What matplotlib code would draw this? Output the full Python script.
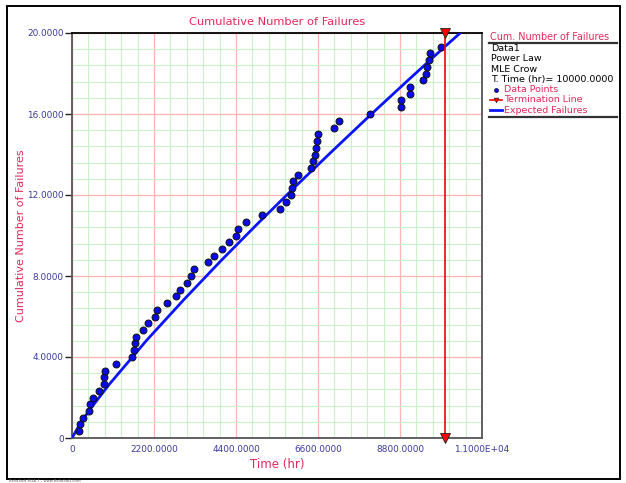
import matplotlib
matplotlib.use("Agg")
import matplotlib.pyplot as plt
from matplotlib.lines import Line2D
from matplotlib.patches import Rectangle
from matplotlib.ticker import MultipleLocator, FixedLocator

# data
fail_time = [188, 215, 303, 465, 483, 572, 733, 859, 859, 877,
             1180, 1601, 1663, 1681, 1717, 1914, 2048, 2227, 2272, 2540,
             2780, 2898, 3094, 3193, 3282, 3640, 3818, 4033, 4221, 4400,
             4462, 4677, 5100, 5581, 5733, 5867, 5894, 5938, 6072, 6404,
             6458, 6529, 6556, 6583, 6592, 7030, 7172, 7996, 8819, 8819,
             9069, 9069, 9427, 9498, 9533, 9587, 9605, 9891]
cum_fail = [0.33, 0.67, 1.00, 1.33, 1.67, 2.00, 2.33, 2.67, 3.00, 3.33,
            3.67, 4.00, 4.33, 4.67, 5.00, 5.33, 5.67, 6.00, 6.33, 6.67,
            7.00, 7.33, 7.67, 8.00, 8.33, 8.67, 9.00, 9.33, 9.67, 10.00,
            10.33, 10.67, 11.00, 11.33, 11.67, 12.00, 12.33, 12.67, 13.00, 13.33,
            13.67, 14.00, 14.33, 14.67, 15.00, 15.33, 15.67, 16.00, 16.33, 16.67,
            17.00, 17.33, 17.67, 18.00, 18.33, 18.67, 19.00, 19.33]

exp_time = [0, 250, 500, 1000, 2000, 3000, 4000, 5000, 6000, 7000, 8000, 9000, 10000, 10600]
exp_fail = [0, 0.80, 1.46, 2.65, 4.82, 6.83, 8.76, 10.62, 12.43, 14.20, 15.94, 17.64, 19.32, 20.3]

term_time = 10000
x_ticks = [0, 2200, 4400, 6600, 8800, 11000]
x_labels = ["0", "2200.0000", "4400.0000", "6600.0000", "8800.0000", "1.1000E+04"]
y_ticks = [0, 4, 8, 12, 16, 20]
y_labels = ["0", "4.0000", "8.0000", "12.0000", "16.0000", "20.0000"]

legend_info = ["Data1", "Power Law", "MLE Crow", "T. Time (hr)= 10000.0000"]
legend_items = ["Data Points", "Termination Line", "Expected Failures"]

RED = '#e4285a'
TICK = '#3a3a9a'
W, H = 626, 483


def fx(x):
    return x / W


def fy(y):
    return 1 - y / H


fig = plt.figure(figsize=(6.26, 4.83), dpi=100)
fig.patch.set_facecolor('white')

ax = fig.add_axes([fx(72), fy(438), (482 - 72) / W, (438 - 33) / H])
ax.set_xlim(0, 11000)
ax.set_ylim(0, 20)

ax.xaxis.set_major_locator(FixedLocator(x_ticks))
ax.yaxis.set_major_locator(FixedLocator(y_ticks))
ax.xaxis.set_minor_locator(MultipleLocator(440))
ax.yaxis.set_minor_locator(MultipleLocator(0.8))
ax.set_xticklabels(x_labels)
ax.set_yticklabels(y_labels)
ax.grid(which='minor', color='#ccf2cc', linewidth=0.8)
ax.grid(which='major', color='#ffb4b4', linewidth=0.9)
ax.set_axisbelow(True)
ax.tick_params(which='minor', length=0)
ax.tick_params(axis='y', which='major', length=5, width=1, color='#222222',
               labelsize=6.4, labelcolor=TICK, pad=1)
ax.tick_params(axis='x', which='major', length=0, labelsize=6.4, labelcolor=TICK, pad=5)
for s in ax.spines.values():
    s.set_color('#555555')
    s.set_linewidth(1.3)
ax.spines['top'].set_color('black')

ax.plot(exp_time, exp_fail, color='#0a14ff', linewidth=2, zorder=3)
ax.plot(fail_time, cum_fail, linestyle='none', marker='o', markersize=5,
        markerfacecolor='#0a0ae6', markeredgecolor='#111111', markeredgewidth=0.7, zorder=4)
ax.plot([term_time, term_time], [0, 20], color='#ff0000', linewidth=1.2, zorder=5)
ax.plot([term_time, term_time], [0, 20], linestyle='none', marker='v', markersize=7,
        markerfacecolor='#ff0000', markeredgecolor='#222222', markeredgewidth=0.6,
        clip_on=False, zorder=6)

ax.set_title("Cumulative Number of Failures", color=RED, fontsize=8.2, pad=6)
ax.set_xlabel("Time (hr)", color=RED, fontsize=8.5)
ax.xaxis.set_label_coords(0.5, -0.05)
ax.set_ylabel("Cumulative Number of Failures", color=RED, fontsize=8)
ax.yaxis.set_label_coords(-0.112, 0.5)

# legend panel on the right
fig.text(fx(490), fy(37), "Cum. Number of Failures", color=RED, fontsize=6.9, va='center')
fig.add_artist(Line2D([fx(489), fx(617)], [fy(43), fy(43)], color='#333333', linewidth=1.6))
fig.add_artist(Line2D([fx(489), fx(617)], [fy(117), fy(117)], color='#333333', linewidth=1.6))

step = 10.3
y0 = 48.5
fig.text(fx(491), fy(y0 + 1.5 * step), "\n".join(legend_info), color='black',
         fontsize=6.8, va='center', linespacing=1.2)
y1 = y0 + 4 * step
fig.text(fx(504), fy(y1 + step), "\n".join(legend_items), color=RED,
         fontsize=6.8, va='center', linespacing=1.2)

fig.add_artist(Line2D([fx(496)], [fy(y1)], linestyle='none', marker='o', markersize=3,
                      markerfacecolor='#0a0ae6', markeredgecolor='#111111', markeredgewidth=0.4))
fig.add_artist(Line2D([fx(490), fx(502)], [fy(y1 + step), fy(y1 + step)], color='#ff0000', linewidth=1.2))
fig.add_artist(Line2D([fx(496)], [fy(y1 + step)], linestyle='none', marker='v', markersize=3.5,
                      markerfacecolor='#ff0000', markeredgecolor='#222222', markeredgewidth=0.4))
fig.add_artist(Line2D([fx(490), fx(502)], [fy(y1 + 2 * step), fy(y1 + 2 * step)],
                      color='#0a14ff', linewidth=2))

# outer frame and footer
fig.add_artist(Rectangle((fx(7), fy(479)), (620 - 7) / W, (479 - 6) / H, fill=False,
                         edgecolor='black', linewidth=1.4, transform=fig.transFigure))
fig.text(fx(9), fy(481.5), "ReliaSoft RGA 7 - www.ReliaSoft.com", color='#666666',
         fontsize=2.8, va='center')

fig.savefig("out.png", dpi=100)
